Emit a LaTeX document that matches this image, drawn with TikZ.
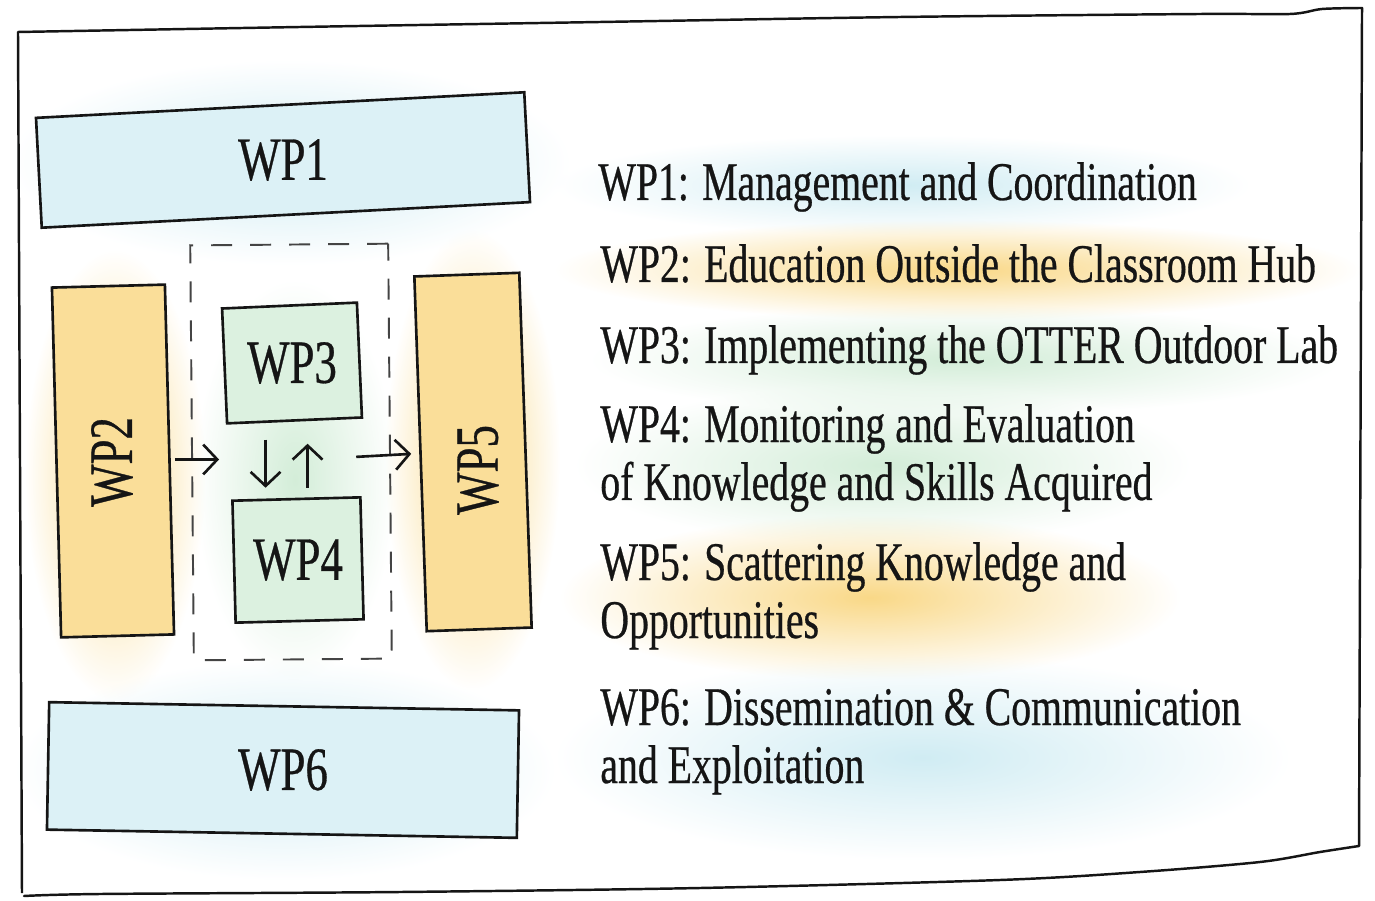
\documentclass[tikz,border=0pt]{standalone}
\usepackage{fontspec}
\setmainfont{Liberation Serif}[FakeStretch=0.73, FakeBold=0.5]
\usetikzlibrary{arrows.meta,fadings,calc}

\definecolor{wpblue}{HTML}{D0ECF3}
\definecolor{wporange}{HTML}{F9D887}
\definecolor{wpgreen}{HTML}{D3EDD8}
\definecolor{ink}{HTML}{151515}

\tikzfading[name=soft, inner color=transparent!0, outer color=transparent!100]

\begin{document}
\begin{tikzpicture}[x=0.02cm, y=0.02cm, ink,
    wpbox/.style={draw=ink, line width=1.5pt, inner sep=0pt},
    wplabel/.style={inner sep=0pt, font=\fontsize{35}{38}\selectfont},
    wptext/.style={anchor=base west, align=left, inner sep=0pt, font=\fontsize{31}{33}\selectfont},
    wash/.style={path fading=soft},
    arr/.style={-{Straight Barb[length=8pt,width=17pt]}, line width=1.5pt}]
    \useasboundingbox (0,0) rectangle (1375,-901);

    % Watercolour wash behind the boxes
    \fill[wpblue, wash] (10,-60) rectangle (570,-265);
    \fill[wporange, wash] (25,-250) rectangle (205,-700);
    \fill[wporange, wash] (385,-230) rectangle (560,-690);
    \fill[wpgreen, wash] (195,-280) rectangle (395,-680);
    \fill[wpblue, wash] (15,-660) rectangle (555,-880);

    % Watercolour wash behind the legend
    \fill[wpblue, wash] (555,-135) rectangle (1250,-235);
    \fill[wporange, wash] (555,-220) rectangle (1360,-320);
    \fill[wpgreen, wash] (590,-305) rectangle (1340,-415);
    \fill[wpgreen, wash] (575,-385) rectangle (1190,-545);
    \fill[wporange, wash] (560,-515) rectangle (1180,-680);
    \fill[wpblue, wash] (555,-655) rectangle (1290,-860);

    % Sheet border
    \draw[line width=1.4pt, line cap=round, line join=round]
        plot[smooth] coordinates {(18,-32) (300,-27) (600,-22) (900,-17) (1200,-14) (1290,-14) (1322,-9) (1362,-8)}
        -- (1362,-12) -- (1359,-846)
        -- plot[smooth] coordinates {(1359,-846) (1320,-852) (1260,-862) (1140,-872) (1000,-880) (700,-888) (400,-892) (100,-894) (24,-896)};
    \draw[line width=1.4pt] (18,-32) -- (22,-893);

    % Work package boxes
    \node[wpbox, fill=wpblue!75, minimum width=9.78cm, minimum height=2.2cm, rotate=3] (wp1) at (283,-160) {};
    \node[wpbox, fill=wporange!85, minimum width=2.26cm, minimum height=7cm, rotate=1.5] (wp2) at (113,-461) {};
    \node[draw=ink!80, line width=1.1pt, dash pattern=on 0.42cm off 0.36cm, minimum width=3.96cm, minimum height=8.3cm, rotate=0.5] (grp) at (291,-452) {};
    \node[wpbox, fill=wpgreen!80, minimum width=2.7cm, minimum height=2.3cm, rotate=2.5] (wp3) at (292,-363) {};
    \node[wpbox, fill=wpgreen!80, minimum width=2.56cm, minimum height=2.44cm, rotate=1.5] (wp4) at (298,-560) {};
    \node[wpbox, fill=wporange!85, minimum width=2.1cm, minimum height=7.1cm, rotate=2] (wp5) at (473,-452) {};
    \node[wpbox, fill=wpblue!75, minimum width=9.4cm, minimum height=2.55cm, rotate=-1] (wp6) at (283,-770) {};

    % Box labels
    \node[wplabel] (wp1l) at (wp1) {WP1};
    \node[wplabel, rotate=90] (wp2l) at (112,-462) {WP2};
    \node[wplabel] (wp3l) at (wp3) {WP3};
    \node[wplabel] (wp4l) at (wp4) {WP4};
    \node[wplabel, rotate=90] (wp5l) at (478,-470) {WP5};
    \node[wplabel] (wp6l) at (wp6) {WP6};

    % Flow between the packages
    \draw[arr] ($(wp2.east)+(4,0)$) -- ($(wp2.east -| grp.west)+(28,0)$);
    \draw[arr] ($(wp3.south)+(-29,-18)$) -- ($(wp3.south)+(-29,-66)$);
    \draw[arr] ($(wp3.south)+(13,-66)$) -- ($(wp3.south)+(13,-22)$);
    \draw[arr] ($(wp5.west)+(-63,-3)$) -- ($(wp5.west)+(-8,0)$);

    % Legend (base is the last line)
    \node[wptext] (t1) at (598,-200) {WP1: Management and Coordination};
    \node[wptext] (t2) at (600,-282) {WP2: Education Outside the Classroom Hub};
    \node[wptext] (t3) at (600,-363) {WP3: Implementing the OTTER Outdoor Lab};
    \node[wptext] (t4) at (600,-500) {WP4: Monitoring and Evaluation\\of Knowledge and Skills Acquired};
    \node[wptext] (t5) at (600,-638) {WP5: Scattering Knowledge and\\Opportunities};
    \node[wptext] (t6) at (600,-783) {WP6: Dissemination \& Communication\\and Exploitation};
\end{tikzpicture}
\end{document}
